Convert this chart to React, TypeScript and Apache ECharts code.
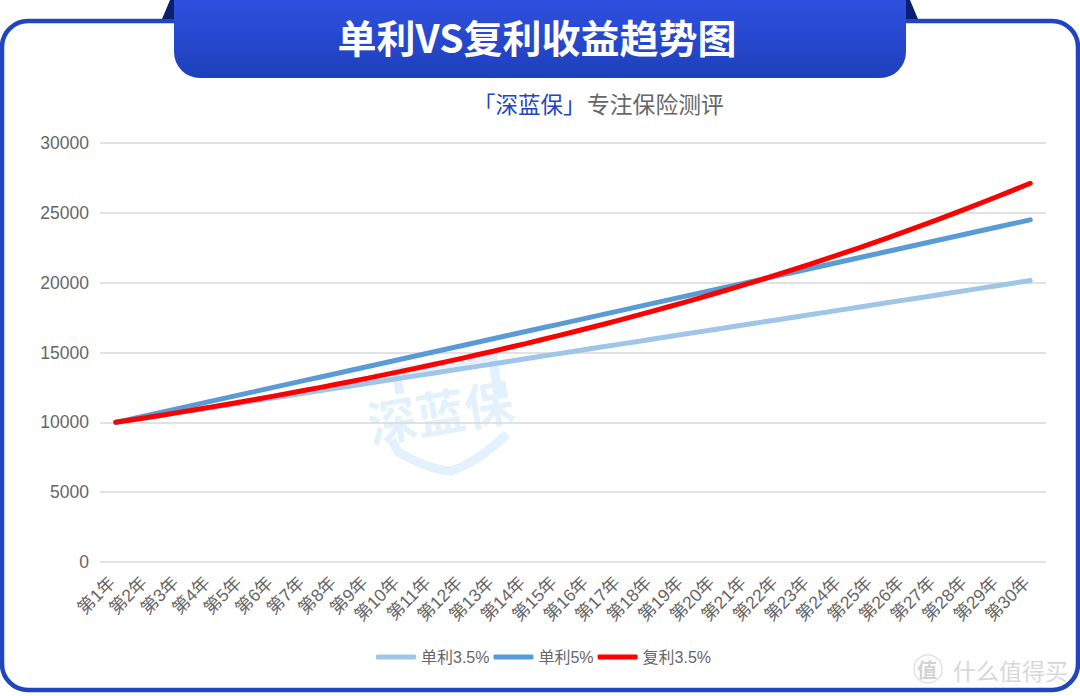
import React, { useEffect, useRef } from "react";
import * as echarts from "echarts";

const years = ["第1年","第2年","第3年","第4年","第5年","第6年","第7年","第8年","第9年","第10年","第11年","第12年","第13年","第14年","第15年","第16年","第17年","第18年","第19年","第20年","第21年","第22年","第23年","第24年","第25年","第26年","第27年","第28年","第29年","第30年"];
const simple35 = [10000,10350,10700,11050,11400,11750,12100,12450,12800,13150,13500,13850,14200,14550,14900,15250,15600,15950,16300,16650,17000,17350,17700,18050,18400,18750,19100,19450,19800,20150];
const simple5 = [10000,10500,11000,11500,12000,12500,13000,13500,14000,14500,15000,15500,16000,16500,17000,17500,18000,18500,19000,19500,20000,20500,21000,21500,22000,22500,23000,23500,24000,24500];
const compound35 = [10000,10350,10712,11087,11475,11877,12293,12723,13168,13629,14106,14600,15111,15640,16187,16753,17340,17947,18575,19225,19898,20594,21315,22061,22833,23632,24460,25316,26202,27119];
const seriesNames = ["单利3.5%","单利5%","复利3.5%"];
const seriesColors = ["#9fc5e8","#5b9bd5","#ff0000"];
const titleText = "单利VS复利收益趋势图";
const font = '"Noto Sans CJK SC", "Noto Sans", sans-serif';
const latinFont = '"Liberation Sans", "Noto Sans CJK SC", sans-serif';

echarts.graphic.registerShape("shieldMark", echarts.graphic.extendPath("M400 394 L396 372 L493 356 L498 396 M392 440 L398 452 Q430 470 451 471 Q478 462 507 434", {}) as any);

export default function App() {
  const ref = useRef<HTMLDivElement>(null);
  useEffect(() => {
    const chart = echarts.init(ref.current!, undefined, { renderer: "svg" });
    chart.setOption({
      animation: false,
      backgroundColor: "#ffffff",
      grid: { left: 100, right: 34, top: 143, bottom: 134, containLabel: false },
      xAxis: {
        type: "category",
        data: years,
        boundaryGap: true,
        axisLine: { show: false },
        axisTick: { show: false },
        axisLabel: { rotate: 45, interval: 0, color: "#666", fontSize: 17.5, fontFamily: latinFont, margin: 14, padding: [0, 5, 0, 0] },
      },
      yAxis: {
        type: "value",
        min: 0,
        max: 30000,
        interval: 5000,
        axisLine: { show: false },
        axisTick: { show: false },
        axisLabel: { color: "#666", fontSize: 17.5, fontFamily: latinFont, margin: 11, formatter: (v: number) => String(v) },
        splitLine: { lineStyle: { color: "#d9d9d9", width: 1.5 } },
      },
      legend: {
        bottom: 26,
        left: 371,
        itemWidth: 40,
        itemHeight: 5,
        itemGap: 4,
        icon: "roundRect",
        textStyle: { color: "#666", fontSize: 16, fontFamily: latinFont },
        data: seriesNames,
      },
      series: seriesNames.map((name, i) => ({
        name,
        type: "line",
        data: [simple35, simple5, compound35][i],
        showSymbol: false,
        smooth: true,
        z: 3 + i,
        lineStyle: { color: seriesColors[i], width: 5, cap: "round" },
        itemStyle: { color: seriesColors[i] },
      })),
      graphic: [
        { type: "rect", z: -10, silent: true, shape: { x: 2, y: 21, width: 1076, height: 669, r: 26 }, style: { fill: "#fff", stroke: "#1f45c0", lineWidth: 4.5 } },
        { type: "polygon", z: 10, silent: true, shape: { points: [[162, 19], [170, 0], [176, 0], [176, 19]] }, style: { fill: "#0a1f70" } },
        { type: "polygon", z: 10, silent: true, shape: { points: [[918, 19], [910, 0], [904, 0], [904, 19]] }, style: { fill: "#0a1f70" } },
        {
          type: "rect", z: 11, silent: true,
          shape: { x: 174, y: -30, width: 732, height: 108, r: 26 },
          style: { fill: new echarts.graphic.LinearGradient(0, 0, 0, 1, [{ offset: 0.25, color: "#3050e0" }, { offset: 1, color: "#1d40bb" }]) },
        },
        { type: "text", z: 12, silent: true, x: 537, y: 36, style: { text: titleText, fill: "#fff", font: `bold 39px ${font}`, align: "center", verticalAlign: "middle" } },
        { type: "text", z: 12, silent: true, x: 473, y: 103, style: { text: "「深蓝保」", fill: "#1f45c0", font: `22.5px ${font}`, verticalAlign: "middle" } },
        { type: "text", z: 12, silent: true, x: 587, y: 103, style: { text: "专注保险测评", fill: "#666", font: `22.8px ${font}`, verticalAlign: "middle" } },
        { type: "text", z: -5, silent: true, x: 440, y: 410, rotation: 0.17, style: { text: "深蓝保", fill: "#e3f1fd", font: `bold 49px ${font}`, align: "center", verticalAlign: "middle" } },
        { type: "shieldMark", z: -5, silent: true, style: { fill: "none", stroke: "#e3f1fd", lineWidth: 9 } },
        { type: "circle", z: 12, silent: true, shape: { cx: 928, cy: 669, r: 14 }, style: { fill: "none", stroke: "#e2e2e2", lineWidth: 1.5 } },
        { type: "text", z: 12, silent: true, x: 927, y: 669, style: { text: "值", fill: "#d2d2d2", font: `bold 20px ${font}`, align: "center", verticalAlign: "middle" } },
        { type: "text", z: 12, silent: true, x: 953, y: 670, style: { text: "什么值得买", fill: "#d8d8d8", font: `23px ${font}`, verticalAlign: "middle" } },
      ],
    });
    return () => chart.dispose();
  }, []);
  return <div ref={ref} style={{ position: "fixed", left: 0, top: 0, width: 1080, height: 696 }} />;
}
